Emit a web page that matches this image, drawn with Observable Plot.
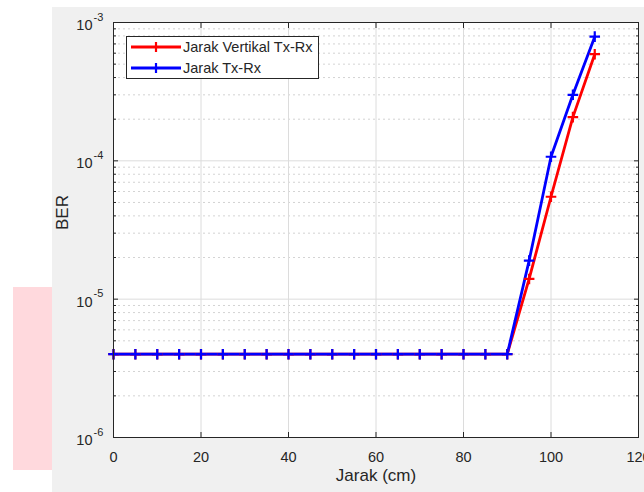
<!DOCTYPE html>
<html>
<head>
<meta charset="utf-8">
<script src="https://cdn.jsdelivr.net/npm/d3@7"></script>
<script src="https://cdn.jsdelivr.net/npm/@observablehq/plot@0.6"></script>
<style>
  html, body { margin: 0; padding: 0; background: #ffffff; }
  #wrap { position: relative; width: 644px; height: 492px; overflow: hidden; font-family: "Liberation Sans", Arial, sans-serif; }
  #gray { position: absolute; left: 52px; top: 7px; width: 592px; height: 485px; background: #f0f0f0; }
  #pink { position: absolute; left: 13px; top: 287px; width: 39px; height: 183px; background: #ffd9dd; }
  #chart { position: absolute; left: 0; top: 0; }
  #legend { position: absolute; left: 126px; top: 36px; width: 191px; height: 41px; background: #fff; border: 1px solid #262626; }
  .row { position: absolute; left: 3px; height: 20px; display: flex; align-items: center; font-size: 14.5px; color: #262626; white-space: nowrap; }
  .row svg { margin-right: 1px; }
</style>
</head>
<body>
<div id="wrap">
  <div id="gray"></div>
  <div id="pink"></div>
  <div id="chart"></div>
  <div id="legend"></div>
</div>
<script>
// ---- data ----
const jarak = [0, 5, 10, 15, 20, 25, 30, 35, 40, 45, 50, 55, 60, 65, 70, 75, 80, 85, 90, 95, 100, 105, 110];
const berVertikal = [4e-6, 4e-6, 4e-6, 4e-6, 4e-6, 4e-6, 4e-6, 4e-6, 4e-6, 4e-6, 4e-6, 4e-6, 4e-6, 4e-6, 4e-6, 4e-6, 4e-6, 4e-6, 4e-6, 1.4e-5, 5.5e-5, 2.07e-4, 5.9e-4];
const berTxRx = [4e-6, 4e-6, 4e-6, 4e-6, 4e-6, 4e-6, 4e-6, 4e-6, 4e-6, 4e-6, 4e-6, 4e-6, 4e-6, 4e-6, 4e-6, 4e-6, 4e-6, 4e-6, 4e-6, 1.9e-5, 1.07e-4, 3.0e-4, 7.9e-4];
const seriesNames = ["Jarak Vertikal Tx-Rx", "Jarak Tx-Rx"];
const seriesColors = ["#ff0000", "#0000ff"];
const xTicks = [0, 20, 40, 60, 80, 100, 120];
const yTicks = [1e-6, 1e-5, 1e-4, 1e-3];
const yExponents = ["-6", "-5", "-4", "-3"];
const yMinor = [2e-6, 3e-6, 4e-6, 5e-6, 6e-6, 7e-6, 8e-6, 9e-6,
                2e-5, 3e-5, 4e-5, 5e-5, 6e-5, 7e-5, 8e-5, 9e-5,
                2e-4, 3e-4, 4e-4, 5e-4, 6e-4, 7e-4, 8e-4, 9e-4];
const xLabel = "Jarak (cm)";
const yLabel = "BER";

const rows = [];
jarak.forEach((x, i) => rows.push({x, y: berVertikal[i], s: seriesNames[0]}));
jarak.forEach((x, i) => rows.push({x, y: berTxRx[i], s: seriesNames[1]}));

const ink = "#262626";
const font = "'Liberation Sans', Arial, sans-serif";

const plot = Plot.plot({
  width: 644,
  height: 492,
  marginLeft: 113,
  marginRight: 6,
  marginTop: 22,
  marginBottom: 55,
  style: {background: "transparent", fontFamily: font, color: ink, overflow: "visible"},
  x: {domain: [0, 120], ticks: xTicks},
  y: {type: "log", domain: [1e-6, 1e-3]},
  color: {domain: seriesNames, range: seriesColors},
  marks: [
    Plot.frame({fill: "white", stroke: "none"}),
    Plot.ruleY(yMinor, {y: d => d, stroke: "#c8c8c8", strokeDasharray: "2,3", strokeWidth: 0.8}),
    Plot.ruleY(yTicks, {y: d => d, stroke: "#dcdcdc", strokeWidth: 1}),
    Plot.ruleX(xTicks, {x: d => d, stroke: "#dcdcdc", strokeWidth: 1}),
    // inward ticks
    Plot.axisX({anchor: "bottom", ticks: xTicks, tickSize: -5, tickFormat: () => "", stroke: ink, label: null}),
    Plot.axisX({anchor: "top", ticks: xTicks, tickSize: -5, tickFormat: () => "", stroke: ink, label: null}),
    Plot.axisY({anchor: "left", ticks: yTicks, tickSize: -5, tickFormat: () => "", stroke: ink, label: null}),
    Plot.axisY({anchor: "right", ticks: yTicks, tickSize: -5, tickFormat: () => "", stroke: ink, label: null}),
    Plot.axisY({anchor: "left", ticks: yMinor, tickSize: -3, tickFormat: () => "", stroke: ink, label: null}),
    Plot.axisY({anchor: "right", ticks: yMinor, tickSize: -3, tickFormat: () => "", stroke: ink, label: null}),
    // x tick labels
    Plot.axisX({anchor: "bottom", ticks: xTicks, tickSize: 0, tickPadding: 14, fontSize: 14.5, label: null, fill: ink}),
    // y tick labels (10^n)
    Plot.text(yTicks, {y: d => d, frameAnchor: "left", text: () => "10", textAnchor: "end", dx: -21, dy: 3, fontSize: 14.5, fill: ink}),
    Plot.text(yTicks, {y: d => d, frameAnchor: "left", text: (d, i) => yExponents[i], textAnchor: "start", dx: -20, dy: -5.5, fontSize: 11, fill: ink}),
    // axis labels
    Plot.text([xLabel], {frameAnchor: "bottom", text: d => d, dy: 43, fontSize: 17, fill: ink}),
    Plot.text([yLabel], {frameAnchor: "left", text: d => d, dx: -51, rotate: -90, fontSize: 17, fill: ink}),
    // data
    Plot.line(rows, {x: "x", y: "y", z: "s", stroke: "s", strokeWidth: 2.8}),
    Plot.dot(rows, {x: "x", y: "y", stroke: "s", symbol: "plus", r: 3.5, strokeWidth: 2.2}),
    Plot.frame({stroke: ink, strokeWidth: 1})
  ]
});
document.getElementById("chart").appendChild(plot);

// legend
const legend = document.getElementById("legend");
seriesNames.forEach((name, i) => {
  const row = document.createElement("div");
  row.className = "row";
  row.style.top = (0 + i * 21) + "px";
  const sw = d3.create("svg").attr("width", 52).attr("height", 12);
  sw.append("line").attr("x1", 1).attr("x2", 51).attr("y1", 6).attr("y2", 6)
    .attr("stroke", seriesColors[i]).attr("stroke-width", 2.8);
  sw.append("path").attr("d", "M26,1V11M21,6H31").attr("stroke", seriesColors[i]).attr("stroke-width", 2.2);
  row.appendChild(sw.node());
  const t = document.createElement("span");
  t.textContent = name;
  row.appendChild(t);
  legend.appendChild(row);
});
</script>
</body>
</html>
